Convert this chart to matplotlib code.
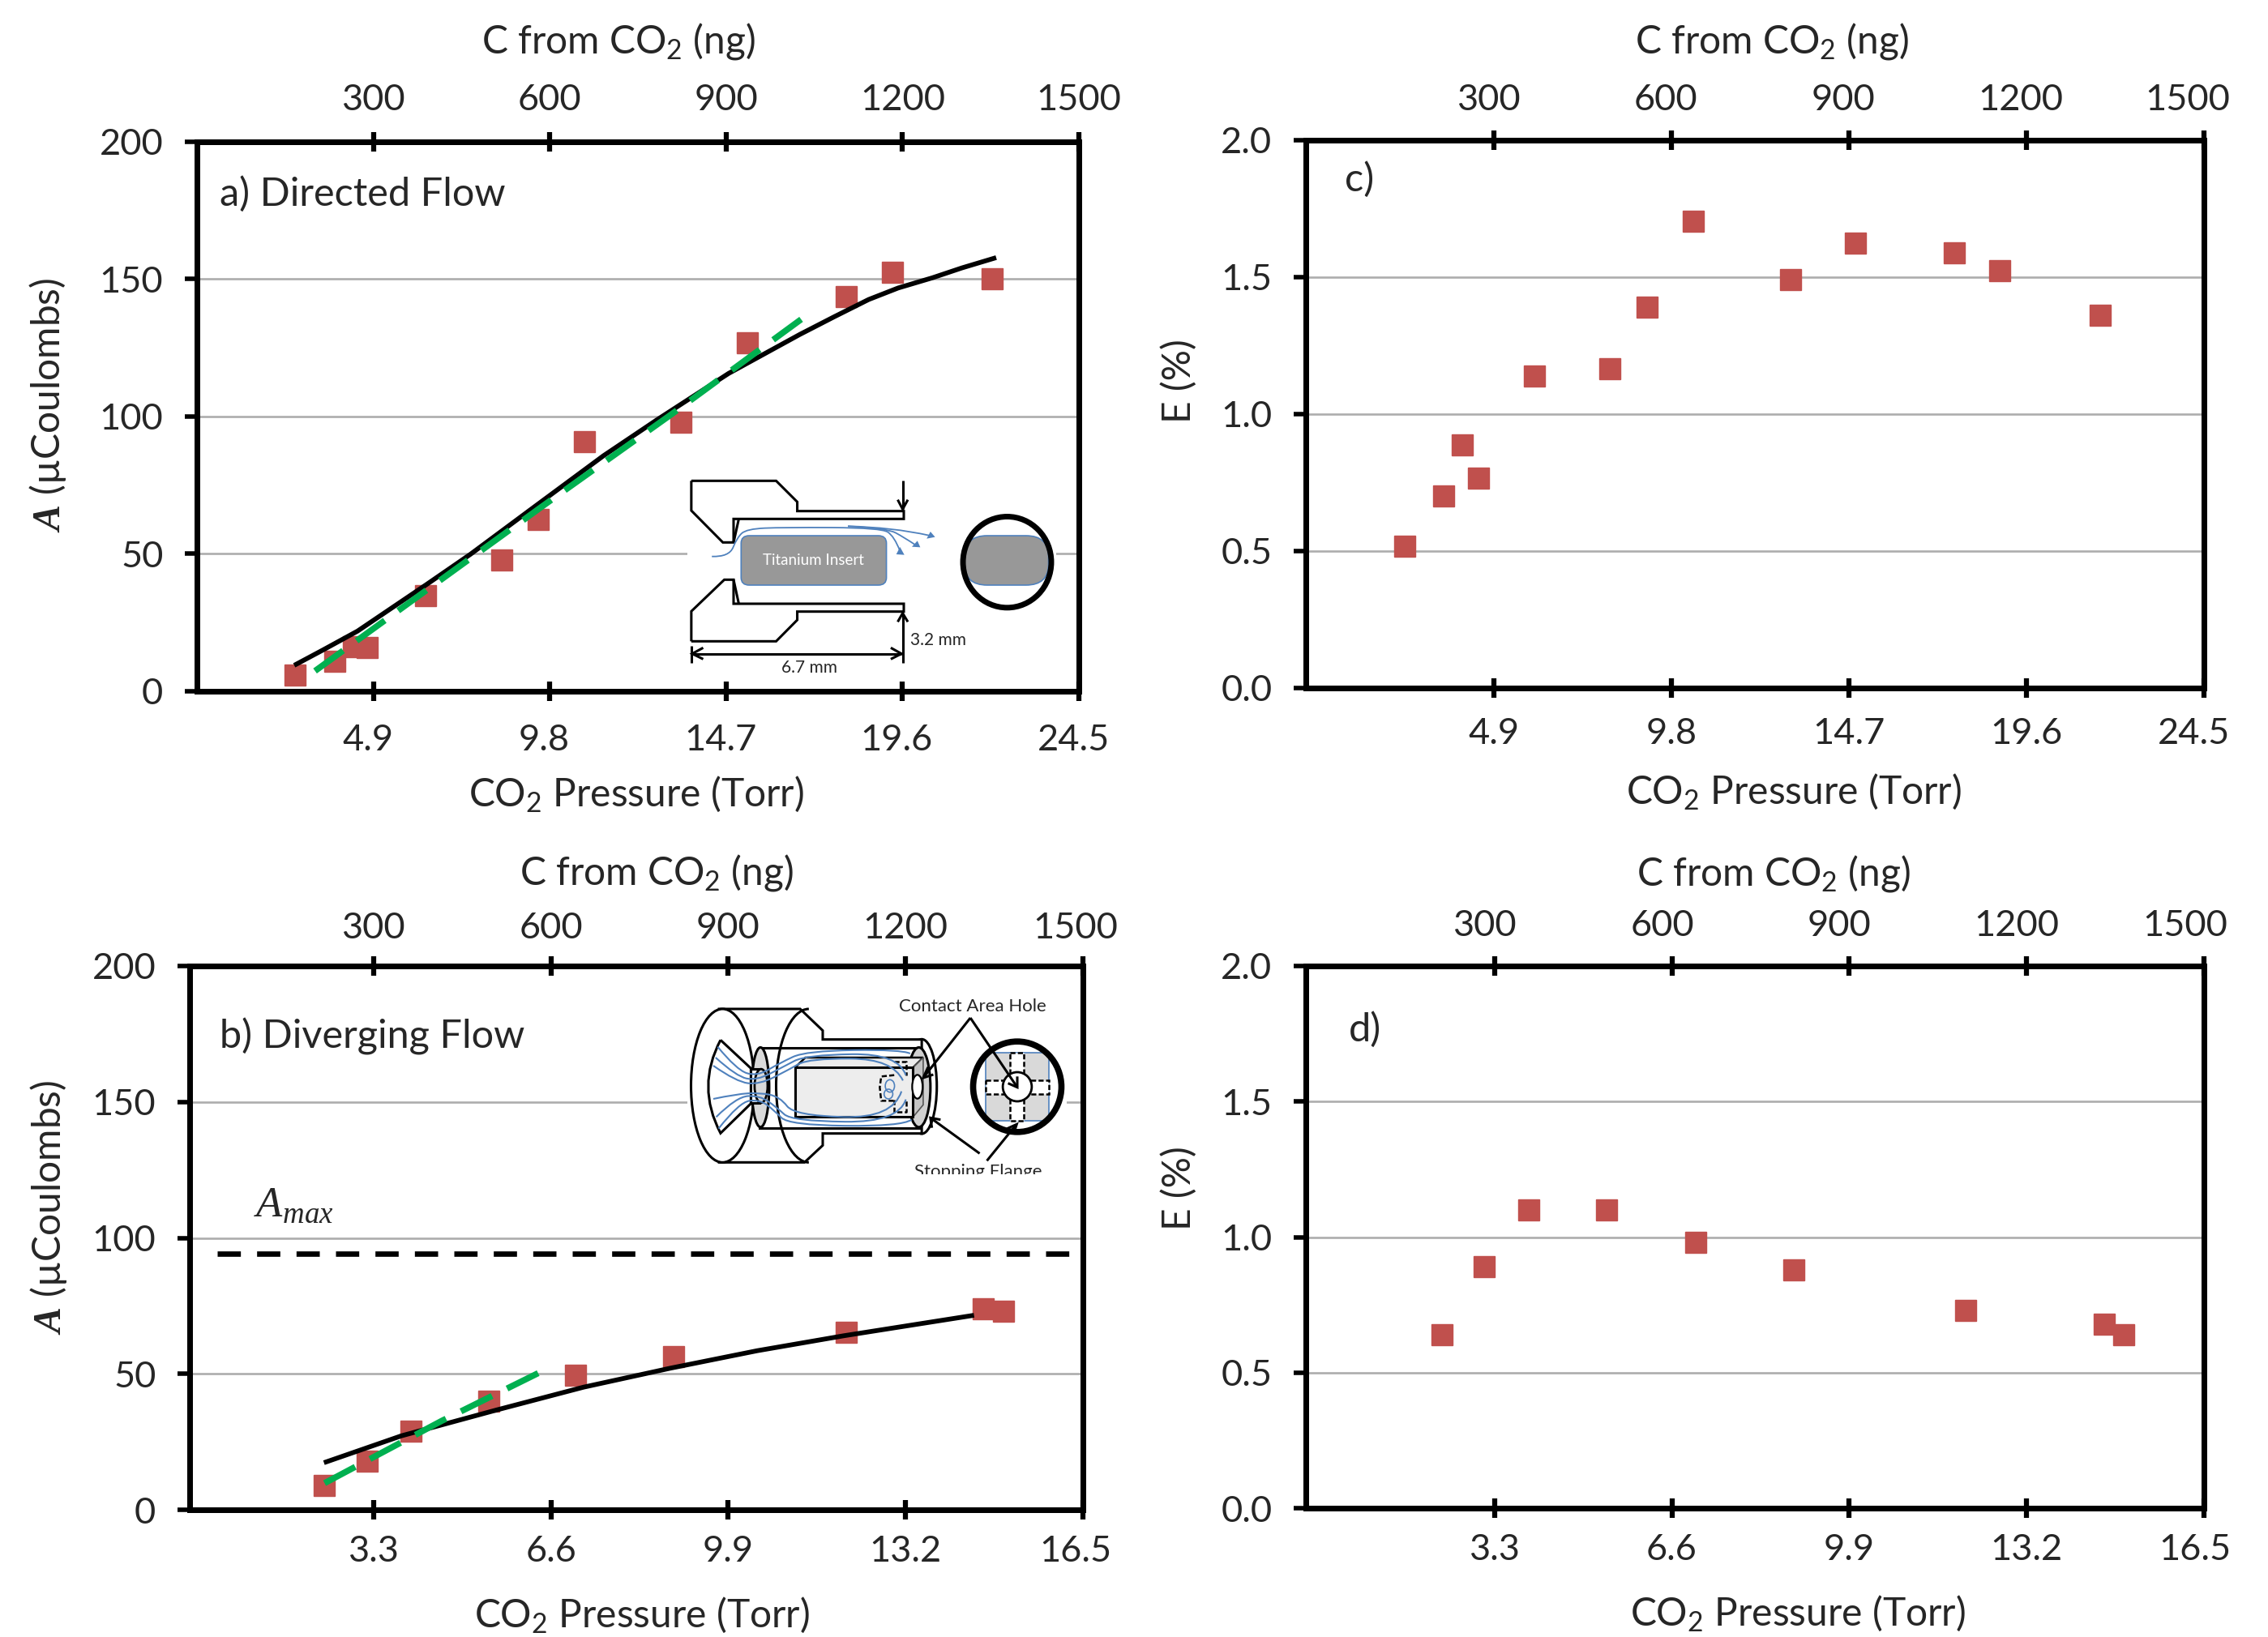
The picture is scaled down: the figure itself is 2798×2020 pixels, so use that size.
#!/usr/bin/env python3

import matplotlib
matplotlib.use("Agg")
import matplotlib.pyplot as plt
from matplotlib.patches import Arc, Ellipse, FancyBboxPatch, PathPatch, Polygon, Rectangle
from matplotlib.path import Path
from matplotlib.transforms import ScaledTranslation

plt.rcParams["font.family"] = ["Lato", "DejaVu Sans"]
plt.rcParams["mathtext.fontset"] = "custom"
plt.rcParams["mathtext.rm"] = "Lato"
plt.rcParams["mathtext.it"] = "Liberation Serif:italic:bold"
plt.rcParams["mathtext.cal"] = "Liberation Serif:italic"
plt.rcParams["mathtext.default"] = "regular"

W, H = 2798, 2020

# a) directed flow
a_press = [2.73, 3.82, 4.34, 4.74, 6.35, 8.47, 9.48, 10.76, 13.45, 15.30, 18.03, 19.32, 22.09]
a_charge = [5.8, 11, 16.3, 15.8, 34.7, 47.9, 62.6, 91, 97.9, 126.8, 143.7, 152.6, 150]
a_fit_x = [2.76, 3.51, 4.46, 5.42, 6.37, 7.60, 9.38, 11.29, 12.79, 14.77, 16.75, 17.7, 18.66, 19.48, 20.43, 21.25, 22.14]
a_fit_y = [9.85, 15.1, 21.9, 30.4, 38.8, 49.9, 67.2, 85.7, 98.9, 115.7, 129.9, 136.3, 142.6, 146.8, 150.5, 154.1, 157.6]
a_lin_x = [3.28, 9.58, 13.2, 17.12]
a_lin_y = [7.4, 67.2, 101, 138.6]

# b) diverging flow
b_press = [2.38, 3.18, 3.99, 5.45, 7.06, 8.89, 12.09, 14.65, 15.02]
b_charge = [9, 18, 29, 40, 49.5, 56.4, 65.4, 74, 72.9]
b_fit_x = [2.42, 3.82, 5.59, 7.21, 8.83, 10.44, 12.05, 14.43]
b_fit_y = [17.6, 27.2, 36.7, 45.1, 52.1, 58.5, 64, 71.4]
b_lin_x = [2.39, 4.57, 6.40]
b_lin_y = [9.8, 32.7, 50.6]
a_max = 94.2

# c) and d) efficiency
c_press = [2.42, 3.50, 4.03, 4.46, 6.02, 8.10, 9.13, 10.41, 13.08, 14.88, 17.6, 18.87, 21.63]
c_eff = [0.517, 0.70, 0.887, 0.765, 1.14, 1.166, 1.39, 1.705, 1.49, 1.625, 1.59, 1.525, 1.36]
d_press = [2.33, 3.11, 3.94, 5.39, 7.04, 8.87, 12.07, 14.65, 15.0]
d_eff = [0.64, 0.89, 1.10, 1.10, 0.98, 0.88, 0.73, 0.68, 0.64]

press_ticks_a = [4.9, 9.8, 14.7, 19.6, 24.5]
press_ticks_b = [3.3, 6.6, 9.9, 13.2, 16.5]
carbon_ticks = [300, 600, 900, 1200, 1500]
charge_ticks = [0, 50, 100, 150, 200]
eff_ticks = [0.0, 0.5, 1.0, 1.5, 2.0]

RED = "#c0504d"
GREEN = "#00b050"
BLUE = "#4f81bd"
TXT = "#262626"
FS = 32.5
LS = 34.5


def shift_labels(axis, shift, last_shift):
    # the tick labels sit a little off their ticks in the original
    labs = axis.get_xticklabels()
    for i, lab in enumerate(labs):
        dx = shift + (last_shift if i == len(labs) - 1 else 0)
        lab.set_transform(lab.get_transform() + ScaledTranslation(dx / 100, 0, fig.dpi_scale_trans))


def make_panel(box, x0, xticks, yticks, yfmt, ylab, xlab_pos, toplab_pos, ylab_pos, note, note_pos,
               bot_pad, top_pad, bot_shift, top_shift, last_shift):
    l, r, t, b = box
    ax = fig.add_axes([l / W, 1 - b / H, (r - l) / W, (b - t) / H])
    ax.set_xlim(x0, xticks[-1])
    ax.set_ylim(yticks[0], yticks[-1])
    ax.set_xticks(xticks)
    ax.set_xticklabels(["%.1f" % v for v in xticks])
    ax.set_yticks(yticks)
    ax.set_yticklabels([yfmt % v for v in yticks])
    ax.grid(axis="y", color="#adadad", lw=1.9)
    ax.set_axisbelow(True)
    ax.tick_params(axis="x", direction="inout", length=17, width=4.5, pad=bot_pad,
                   labelsize=FS, labelcolor=TXT)
    ax.tick_params(axis="y", direction="out", length=11, width=4, pad=19,
                   labelsize=FS, labelcolor=TXT)
    shift_labels(ax, bot_shift, last_shift)
    for s in ax.spines.values():
        s.set_linewidth(5)
    ax.set_xlabel("CO$_2$ Pressure (Torr)", fontsize=LS, color=TXT, va="center")
    ax.xaxis.set_label_coords(*xlab_pos)
    ax.set_ylabel(ylab, fontsize=LS, color=TXT, va="center")
    ax.yaxis.set_label_coords(*ylab_pos)

    top = ax.twiny()
    top.set_xlim(x0 / xticks[-1] * 1500, 1500)
    top.set_xticks(carbon_ticks)
    top.set_xticklabels([str(v) for v in carbon_ticks])
    top.tick_params(axis="x", direction="inout", length=17, width=4.5, pad=top_pad,
                    labelsize=FS, labelcolor=TXT)
    shift_labels(top, top_shift, last_shift)
    for s in top.spines.values():
        s.set_linewidth(5)
    top.set_xlabel("C from CO$_2$ (ng)", fontsize=LS, color=TXT, va="center")
    top.xaxis.set_label_coords(*toplab_pos)

    ax.text(note_pos[0], note_pos[1], note, transform=ax.transAxes, fontsize=35,
            color=TXT, va="center", ha="left")
    return ax


def overlay(x, y, w, h, zw, zh):
    # axes over a part of the figure, in coordinates of the crop
    ov = fig.add_axes([x / W, 1 - (y + h) / H, w / W, h / H])
    ov.set_xlim(0, zw)
    ov.set_ylim(zh, 0)
    ov.axis("off")
    ov.patch.set_alpha(0)
    return ov


def line(ov, pts, lw=2.2, color="black", ls="-", z=5):
    ov.plot([p[0] for p in pts], [p[1] for p in pts], color=color, lw=lw, ls=ls, zorder=z,
            solid_joinstyle="miter", solid_capstyle="butt")


def flow(ov, pts, lw=1.3, z=6):
    verts = [pts[0]]
    codes = [Path.MOVETO]
    for i in range(1, len(pts) - 1):
        nx = ((pts[i][0] + pts[i + 1][0]) / 2, (pts[i][1] + pts[i + 1][1]) / 2)
        if i == len(pts) - 2:
            nx = pts[i + 1]
        verts += [pts[i], nx]
        codes += [Path.CURVE3, Path.CURVE3]
    ov.add_patch(PathPatch(Path(verts, codes), fc="none", ec=BLUE, lw=lw, zorder=z))


fig = plt.figure(figsize=(W / 100, H / 100), dpi=100)
fig.patch.set_facecolor("white")

A_LAB = r"$\mathit{A}$ (µCoulombs)"
GREEN_DASH = (0, (5.6, 2.7))

# panel a
ax = make_panel((243, 1331, 175, 853), 0, press_ticks_a, charge_ticks, "%d", A_LAB,
                (0.498, -0.187), (0.478, 1.183), (-0.169, 0.521), "a) Directed Flow", (0.026, 0.905),
                20, 13.5, -7, 0, 0)
ax.plot(a_press, a_charge, "s", color=RED, ms=19, mec=RED, zorder=2.5)
ax.plot(a_fit_x, a_fit_y, color="black", lw=4.2, zorder=3)
ax.plot(a_lin_x, a_lin_y, color=GREEN, lw=5.5, ls=GREEN_DASH, zorder=4)

# panel c
ax = make_panel((1611, 2719, 173, 849), -0.3, press_ticks_a, eff_ticks, "%.1f", "E (%)",
                (0.543, -0.189), (0.519, 1.18), (-0.141, 0.56), "c)", (0.043, 0.928),
                17.5, 12.5, 0, -7, -13)
ax.plot(c_press, c_eff, "s", color=RED, ms=19, mec=RED, zorder=5)

# panel b
ax = make_panel((234, 1336, 1192, 1863), -0.12, press_ticks_b, charge_ticks, "%d", A_LAB,
                (0.506, -0.193), (0.523, 1.171), (-0.158, 0.556), "b) Diverging Flow", (0.034, 0.870),
                13.5, 10, 0, 0, -9)
ax.plot(b_press, b_charge, "s", color=RED, ms=19, mec=RED, zorder=2.5)
ax.plot(b_fit_x, b_fit_y, color="black", lw=4.2, zorder=3)
ax.plot(b_lin_x, b_lin_y, color=GREEN, lw=5.5, ls=GREEN_DASH, zorder=4)
ax.axhline(a_max, xmin=0.031, color="black", lw=4.8, ls=(0, (4.3, 3)), zorder=3)
ax.text(0.072, 0.559, r"$\mathcal{A}_{\mathcal{max}}$", transform=ax.transAxes, fontsize=38,
        color=TXT, va="center")

# panel d
ax = make_panel((1611, 2719, 1192, 1861), -0.21, press_ticks_b, eff_ticks, "%.1f", "E (%)",
                (0.548, -0.193), (0.521, 1.171), (-0.141, 0.59), "d)", (0.048, 0.883),
                13.5, 12.5, 0, -12, -11)
ax.plot(d_press, d_eff, "s", color=RED, ms=19, mec=RED, zorder=5)

# schematic in panel a
ov = overlay(780, 560, 560, 300, 1568, 900)
ov.add_patch(Rectangle((190, 340), 1275, 60, fc="white", ec="none", zorder=1))
line(ov, [(204, 100), (497, 100), (570, 178), (570, 212), (938, 212), (938, 241), (350, 241),
          (350, 328), (313, 328), (204, 210), (204, 100)])
line(ov, [(350, 328), (368, 241)])
line(ov, [(204, 694), (497, 694), (570, 615), (570, 584), (938, 584), (938, 555), (350, 555),
          (350, 466), (318, 466), (204, 583), (204, 694)])
line(ov, [(350, 466), (368, 555)])
line(ov, [(934, 100), (934, 205)])
line(ov, [(917, 170), (934, 205), (952, 170)])
line(ov, [(934, 775), (934, 590)])
line(ov, [(917, 622), (934, 590), (952, 622)])
line(ov, [(204, 710), (204, 775)])
line(ov, [(204, 740), (930, 740)])
line(ov, [(245, 718), (207, 740), (245, 760)])
line(ov, [(893, 718), (930, 740), (893, 760)])
ov.add_patch(FancyBboxPatch((376, 303), 502, 183, boxstyle="round,pad=0,rounding_size=28",
                            fc="#989898", ec=BLUE, lw=1.2, zorder=3))
ov.text(625, 396, "Titanium Insert", color="white", fontsize=13.5, ha="center", va="center", zorder=7)
flow(ov, [(275, 380), (335, 382), (362, 310), (395, 278), (520, 272), (860, 274), (905, 305), (925, 360)])
flow(ov, [(745, 268), (880, 275), (940, 310), (975, 335)])
flow(ov, [(745, 268), (900, 272), (1025, 302)])
ov.add_patch(Polygon([(925, 345), (940, 374), (912, 372)], fc=BLUE, ec="none", zorder=6))
ov.add_patch(Polygon([(985, 322), (995, 346), (966, 344)], fc=BLUE, ec="none", zorder=6))
ov.add_patch(Polygon([(1030, 288), (1046, 308), (1017, 314)], fc=BLUE, ec="none", zorder=6))
ov.add_patch(FancyBboxPatch((1148, 303), 290, 183, boxstyle="round,pad=0,rounding_size=78",
                            fc="#989898", ec=BLUE, lw=1.2, zorder=3))
ov.add_patch(Ellipse((1295, 401), 305, 337, fc="none", ec="black", lw=5, zorder=5))
ov.text(1056, 690, "3.2 mm", color=TXT, fontsize=15, ha="center", va="center")
ov.text(613, 793, "6.7 mm", color=TXT, fontsize=15, ha="center", va="center")

# schematic in panel b
ov = overlay(780, 1200, 560, 280, 1568, 840)
ov.add_patch(Rectangle((190, 450), 1310, 50, fc="white", ec="none", zorder=1))
ov.add_patch(Ellipse((1000, 422), 104, 350, fc="white", ec="black", lw=2.2, zorder=2))
ov.add_patch(Polygon([(300, 135), (580, 135), (658, 215), (658, 248), (1000, 248), (1000, 596),
                      (658, 596), (658, 640), (595, 703), (300, 703)], fc="white", ec="black",
                     lw=2.2, zorder=2, joinstyle="miter"))
ov.add_patch(Ellipse((312, 419), 218, 568, fc="white", ec="black", lw=2.2, zorder=3))
funnel = Path([(305, 250), (410, 355), (410, 485), (305, 595), (220, 422), (305, 250)],
              [Path.MOVETO, Path.LINETO, Path.LINETO, Path.LINETO, Path.CURVE3, Path.CURVE3])
ov.add_patch(PathPatch(funnel, fc="white", ec="black", lw=2.2, zorder=4))
ov.add_patch(Rectangle((440, 278), 550, 297, fc="white", ec="black", lw=2.2, zorder=4))
ov.add_patch(Ellipse((443, 425), 60, 295, fc="#d9d9d9", ec="black", lw=2.2, zorder=4.5))
ov.add_patch(Ellipse((990, 425), 80, 295, fc="#d0d0d0", ec="black", lw=2.2, zorder=4.5))
ov.add_patch(Arc((610, 419), 226, 568, theta1=90, theta2=270, color="black", lw=2.2, zorder=4.7))
ov.add_patch(Rectangle((408, 357), 32, 126, fc="white", ec="black", lw=2.2, zorder=5))
ov.add_patch(Ellipse((445, 420), 45, 125, fc="#d9d9d9", ec="black", lw=2, zorder=5))
ov.add_patch(Polygon([(562, 352), (598, 315), (1005, 315), (970, 352)], fc="#ededed", ec="black",
                     lw=1.8, zorder=5))
ov.add_patch(Polygon([(970, 352), (1005, 315), (1005, 490), (970, 535)], fc="#c4c4c4", ec="#555555",
                     lw=1.2, zorder=5))
ov.add_patch(Rectangle((562, 352), 408, 183, fc="#ededed", ec="black", lw=2.2, zorder=5))
ov.add_patch(Ellipse((985, 423), 36, 88, fc="white", ec="black", lw=1.6, zorder=5.5))
line(ov, [(905, 380), (860, 385), (855, 425), (860, 475), (905, 475)], lw=1.8, ls=(0, (2.5, 1.2)), z=5.5)
line(ov, [(905, 330), (945, 330), (945, 380)], lw=1.8, ls=(0, (2.5, 1.2)), z=5.5)
line(ov, [(905, 470), (905, 515), (945, 515), (945, 470)], lw=1.8, ls=(0, (2.5, 1.2)), z=5.5)
for pts in [
    [(295, 275), (360, 360), (430, 385), (510, 335), (600, 290), (930, 285), (960, 300)],
    [(288, 315), (360, 385), (430, 400), (520, 350), (600, 305), (920, 300), (945, 380)],
    [(280, 345), (360, 405), (440, 415), (540, 360), (610, 318), (900, 320), (935, 400)],
    [(280, 468), (360, 450), (440, 445), (510, 460), (560, 530), (900, 540), (930, 440)],
    [(290, 535), (360, 460), (440, 455), (500, 500), (550, 550), (920, 555), (945, 470)],
    [(298, 578), (370, 480), (440, 470), (490, 510), (540, 565), (930, 570), (965, 545)],
]:
    flow(ov, pts, lw=1.5, z=6)
ov.add_patch(Ellipse((890, 420), 32, 46, fc="none", ec=BLUE, lw=1.2, zorder=6))
ov.add_patch(Ellipse((885, 450), 30, 36, fc="none", ec=BLUE, lw=1.2, zorder=6))
# end view
ov.add_patch(Rectangle((1222, 298), 216, 250, fc="#d9d9d9", ec=BLUE, lw=1.2, zorder=3))
ov.add_patch(Rectangle((1305, 298), 47, 250, fc="white", ec="black", lw=1.8, ls=(0, (2.5, 1.2)), zorder=4))
ov.add_patch(Rectangle((1222, 400), 216, 50, fc="white", ec="black", lw=1.8, ls=(0, (2.5, 1.2)), zorder=4))
ov.add_patch(Ellipse((1330, 423), 100, 108, fc="white", ec="black", lw=2, zorder=5))
ov.add_patch(Ellipse((1330, 423), 305, 335, fc="none", ec="black", lw=5.5, zorder=6))
line(ov, [(1168, 168), (1005, 390)], z=7)
line(ov, [(1022, 350), (1005, 390), (1040, 378)], z=7)
line(ov, [(1168, 168), (1330, 425)], z=7)
line(ov, [(1298, 410), (1330, 425), (1330, 385)], z=7)
line(ov, [(1200, 670), (1030, 538)], z=7)
line(ov, [(1035, 575), (1030, 538), (1065, 545)], z=7)
line(ov, [(1225, 697), (1325, 565)], z=7)
line(ov, [(1295, 578), (1328, 562), (1318, 595)], z=7)
ov.text(1175, 125, "Contact Area Hole", color=TXT, fontsize=16, ha="center", va="center", zorder=8)
ov.text(1195, 738, "Stopping Flange", color=TXT, fontsize=16, ha="center", va="center", zorder=8)
ov.add_patch(Rectangle((900, 748), 600, 60, fc="white", ec="none", zorder=9))

fig.savefig("out.png", dpi=100)
